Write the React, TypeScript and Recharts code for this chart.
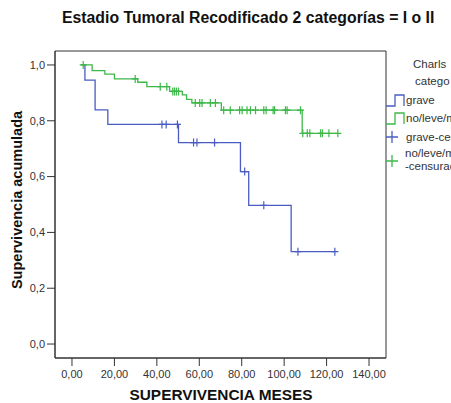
import {
  ComposedChart,
  Line,
  Scatter,
  XAxis,
  YAxis,
  ReferenceArea,
} from 'recharts';

// survival step points (months, cumulative survival)
const graveTimes = [4.5, 6.1, 10.9, 16.9, 50.2, 79.4, 83.3, 103.3, 124];
const graveSurv = [1.0, 0.946, 0.839, 0.787, 0.722, 0.618, 0.497, 0.331, 0.331];
const graveCensTimes = [42.4, 44.4, 49.7, 57.3, 58.9, 67.2, 81.4, 90.4, 106.5, 123.9];
const graveCensSurv = [0.787, 0.787, 0.787, 0.722, 0.722, 0.722, 0.618, 0.497, 0.331, 0.331];

const leveTimes = [4.2, 9.5, 15.5, 20, 31, 35.3, 46, 52, 54, 56.5, 70.4, 108.5, 125.3];
const leveSurv = [1.0, 0.98, 0.967, 0.95, 0.938, 0.922, 0.905, 0.893, 0.877, 0.864, 0.838, 0.755, 0.755];
const leveCensTimes = [
  5.3, 29.8, 41.6, 44.7, 47.5, 48.3, 49.2, 50.2, 58.1, 60.2, 61.3, 65.2, 67.6,
  71.5, 74.6, 79, 80.2, 82.5, 84.1, 86.5, 90.4, 91.5, 94.8, 95.5, 100.6, 101.4,
  107.7, 108.8, 110.9, 112.1, 117.2, 118, 121.1, 125.3,
];
const leveCensSurv = [
  1.0, 0.95, 0.922, 0.922, 0.905, 0.905, 0.905, 0.905, 0.864, 0.864, 0.864, 0.864, 0.864,
  0.838, 0.838, 0.838, 0.838, 0.838, 0.838, 0.838, 0.838, 0.838, 0.838, 0.838, 0.838, 0.838,
  0.838, 0.755, 0.755, 0.755, 0.755, 0.755, 0.755, 0.755,
];

const xTicks = [0, 20, 40, 60, 80, 100, 120, 140];
const yTicks = [0, 0.2, 0.4, 0.6, 0.8, 1.0];

const BLUE = '#4a5cc2';
const GREEN = '#3db849';
const FONT = '"Liberation Sans", Arial, sans-serif';

const zip = (ts: number[], ss: number[]) => ts.map((t, i) => ({ t, s: ss[i] }));

const graveData = zip(graveTimes, graveSurv);
const leveData = zip(leveTimes, leveSurv);
const graveCens = zip(graveCensTimes, graveCensSurv);
const leveCens = zip(leveCensTimes, leveCensSurv);

function plusShape(color: string) {
  return (props: any) => {
    const { cx, cy } = props;
    if (cx == null || cy == null) return <g />;
    return (
      <path
        d={`M${cx - 3.5},${cy}H${cx + 3.5}M${cx},${cy - 4}V${cy + 4}`}
        stroke={color}
        strokeWidth={1.2}
        fill="none"
      />
    );
  };
}

export default function App() {
  return (
    <div style={{ position: 'relative', width: 451, height: 403, background: '#fff', fontFamily: FONT }}>
      <style>{`body{margin:0}`}</style>
      <ComposedChart
        width={451}
        height={403}
        margin={{ top: 51, right: 65, bottom: 0, left: 0 }}
      >
        <XAxis
          type="number"
          dataKey="t"
          domain={[-8, 148]}
          ticks={xTicks}
          allowDataOverflow
          height={45}
          tickSize={8}
          tickFormatter={(v: number) => v.toFixed(2).replace('.', ',')}
          tick={{ fontSize: 11, fill: '#333', fontFamily: FONT, dy: 2 }}
          axisLine={{ stroke: '#333' }}
          tickLine={{ stroke: '#333' }}
        />
        <YAxis
          type="number"
          dataKey="s"
          domain={[-0.05, 1.05]}
          ticks={yTicks}
          allowDataOverflow
          width={55}
          tickSize={8}
          tickFormatter={(v: number) => v.toFixed(1).replace('.', ',')}
          tick={{ fontSize: 11, fill: '#333', fontFamily: FONT }}
          axisLine={{ stroke: '#333' }}
          tickLine={{ stroke: '#333' }}
        />
        <ReferenceArea
          x1={-8}
          x2={148}
          y1={-0.05}
          y2={1.05}
          fill="none"
          stroke="#333"
          strokeWidth={1}
          ifOverflow="visible"
        />
        <Line
          data={graveData}
          dataKey="s"
          type="stepAfter"
          stroke={BLUE}
          strokeWidth={1.3}
          dot={false}
          isAnimationActive={false}
        />
        <Line
          data={leveData}
          dataKey="s"
          type="stepAfter"
          stroke={GREEN}
          strokeWidth={1.3}
          dot={false}
          isAnimationActive={false}
        />
        <Scatter data={graveCens} dataKey="s" shape={plusShape(BLUE)} isAnimationActive={false} />
        <Scatter data={leveCens} dataKey="s" shape={plusShape(GREEN)} isAnimationActive={false} />
      </ComposedChart>
      <svg
        width={451}
        height={403}
        style={{ position: 'absolute', left: 0, top: 0, pointerEvents: 'none' }}
      >
        <text x={62} y={23} fontSize={15.8} fontWeight="bold" fill="#111" fontFamily={FONT}>
          Estadio Tumoral Recodificado 2 categorías = I o II
        </text>
        <text x={221} y={400} textAnchor="middle" fontSize={15.4} fontWeight="bold" fill="#111" fontFamily={FONT}>
          SUPERVIVENCIA MESES
        </text>
        <text
          x={22}
          y={200}
          textAnchor="middle"
          fontSize={14.5}
          fontWeight="bold"
          fill="#111"
          fontFamily={FONT}
          transform="rotate(-90 22 200)"
        >
          Supervivencia acumulada
        </text>
        <g fontFamily={FONT} fontSize={11.5} fill="#333">
          <text x={413} y={68}>Charls</text>
          <text x={415} y={85}>catego</text>
          <path d="M386,106H395V95H404V106" stroke={BLUE} strokeWidth={1.3} fill="none" />
          <text x={406} y={104}>grave</text>
          <path d="M386,124H395V113H404V124" stroke={GREEN} strokeWidth={1.3} fill="none" />
          <text x={406} y={122}>no/leve/m</text>
          <path d="M386,137H398M392,131V143" stroke={BLUE} strokeWidth={1.3} fill="none" />
          <text x={406} y={141}>grave-censurado</text>
          <path d="M386,161H398M392,155V167" stroke={GREEN} strokeWidth={1.3} fill="none" />
          <text x={405} y={157}>no/leve/m</text>
          <text x={405} y={170}>-censurado</text>
        </g>
      </svg>
    </div>
  );
}
